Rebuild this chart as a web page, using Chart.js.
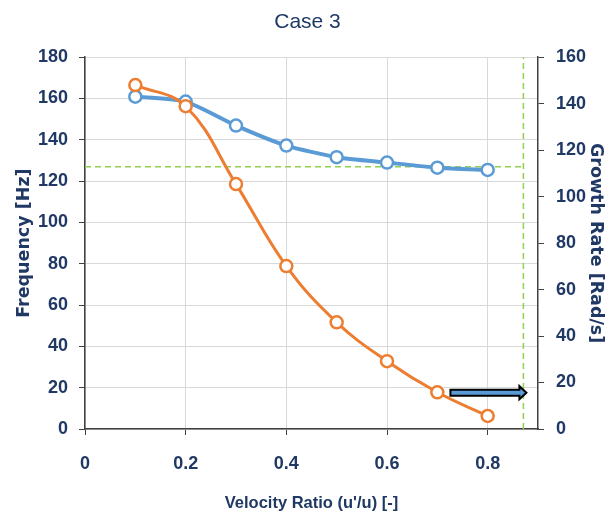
<!DOCTYPE html>
<html>
<head>
<meta charset="utf-8">
<script src="https://cdn.jsdelivr.net/npm/chart.js@4"></script>
<style>
  html, body { margin: 0; padding: 0; background: #fff; }
  #wrap { width: 615px; height: 518px; }
</style>
</head>
<body>
<div id="wrap"><canvas id="caseChart"></canvas></div>
<script>
// valores
const velocityRatio = [0.1, 0.2, 0.3, 0.4, 0.5, 0.6, 0.7, 0.8];
const frequencyHz = [160.9, 158.5, 146.9, 137.2, 131.6, 129.0, 126.5, 125.4];
const growthRate = [148, 138.9, 105.4, 70.1, 45.9, 29.2, 15.8, 5.6];
const xTicks = [0, 0.2, 0.4, 0.6, 0.8];
const limitFreq = 127;      // línea horizontal discontinua
const limitRatio = 0.871;   // línea vertical discontinua
const arrowFrom = [0.726, 17.6];
const arrowTo = [0.877, 17.6];

const navy = '#1F3864';
const sans = '"Liberation Sans", Arial, sans-serif';
const wide = '"DejaVu Sans", sans-serif';

const arrowPlugin = {
  id: 'arrow',
  afterDatasetsDraw(chart) {
    const ctx = chart.ctx;
    const x = chart.scales.x, y = chart.scales.y;
    const x0 = x.getPixelForValue(arrowFrom[0]);
    const x1 = x.getPixelForValue(arrowTo[0]);
    const yc = y.getPixelForValue(arrowFrom[1]);
    const hx = x1 - 7;
    ctx.save();
    ctx.beginPath();
    ctx.moveTo(x0, yc - 3);
    ctx.lineTo(hx, yc - 3);
    ctx.lineTo(hx, yc - 6.5);
    ctx.lineTo(x1, yc);
    ctx.lineTo(hx, yc + 6.5);
    ctx.lineTo(hx, yc + 3);
    ctx.lineTo(x0, yc + 3);
    ctx.closePath();
    ctx.fillStyle = '#5B9BD5';
    ctx.fill();
    ctx.lineWidth = 2;
    ctx.strokeStyle = '#000';
    ctx.stroke();
    ctx.restore();
  }
};

const ctx = document.getElementById('caseChart').getContext('2d');
new Chart(ctx, {
  type: 'line',
  data: {
    datasets: [
      {
        label: 'Growth Rate',
        data: velocityRatio.map((v, i) => ({ x: v, y: growthRate[i] })),
        yAxisID: 'y2',
        borderColor: '#ED7D31',
        borderWidth: 3,
        tension: 0.4,
        pointRadius: 6,
        pointBorderWidth: 2.5,
        pointBackgroundColor: '#fff',
        pointBorderColor: '#ED7D31',
        order: 0
      },
      {
        label: 'Frequency',
        data: velocityRatio.map((v, i) => ({ x: v, y: frequencyHz[i] })),
        yAxisID: 'y',
        borderColor: '#5B9BD5',
        borderWidth: 4,
        tension: 0.2,
        pointRadius: 6,
        pointBorderWidth: 2.5,
        pointBackgroundColor: '#fff',
        pointBorderColor: '#5B9BD5',
        order: 1
      },
      {
        label: 'limite h',
        data: [{ x: 0, y: limitFreq }, { x: limitRatio, y: limitFreq }],
        yAxisID: 'y',
        borderColor: '#92D050',
        borderWidth: 1.5,
        borderDash: [6, 4],
        pointRadius: 0,
        order: 2
      },
      {
        label: 'limite v',
        data: [{ x: limitRatio, y: 0 }, { x: limitRatio, y: 180 }],
        yAxisID: 'y',
        borderColor: '#92D050',
        borderWidth: 1.5,
        borderDash: [6, 4],
        pointRadius: 0,
        order: 2
      }
    ]
  },
  options: {
    responsive: true,
    maintainAspectRatio: false,
    animation: false,
    layout: { padding: 0 },
    plugins: {
      legend: { display: false },
      tooltip: { enabled: false },
      title: {
        display: true,
        text: 'Case 3',
        color: navy,
        font: { family: sans, size: 21, weight: 'normal' },
        padding: { top: 10, bottom: 22 }
      }
    },
    scales: {
      x: {
        type: 'linear',
        min: 0,
        max: 0.9,
        afterBuildTicks: s => { s.ticks = xTicks.map(v => ({ value: v })); },
        afterFit: s => { s.height = 89; },
        ticks: {
          color: navy,
          padding: 18,
          font: { family: sans, size: 18, weight: 'bold' },
          callback: v => v === 0 ? '0' : String(v)
        },
        grid: { color: '#D9D9D9', tickLength: 6, tickColor: '#404040' },
        border: { color: '#404040', width: 1.5 },
        title: {
          display: true,
          text: "Velocity Ratio (u'/u) [-]",
          color: navy,
          font: { family: sans, size: 16.5, weight: 'bold' },
          padding: { top: 0, bottom: 5 }
        }
      },
      y: {
        position: 'left',
        min: 0,
        max: 180,
        afterFit: s => { s.width = 85; },
        ticks: {
          stepSize: 20,
          color: navy,
          padding: 11,
          font: { family: sans, size: 18, weight: 'bold' }
        },
        grid: { color: '#D9D9D9', tickLength: 6, tickColor: '#404040' },
        border: { color: '#404040', width: 1.5 },
        title: {
          display: true,
          text: 'Frequency [Hz]',
          color: navy,
          font: { family: wide, size: 17.5, weight: 'bold' },
          padding: { top: 14, bottom: 0 }
        }
      },
      y2: {
        position: 'right',
        min: 0,
        max: 160,
        afterFit: s => { s.width = 77; },
        ticks: {
          stepSize: 20,
          color: navy,
          padding: 12,
          font: { family: sans, size: 18, weight: 'bold' }
        },
        grid: { drawOnChartArea: false, tickLength: 6, tickColor: '#404040' },
        border: { color: '#404040', width: 1.5 },
        title: {
          display: true,
          text: 'Growth Rate [Rad/s]',
          color: navy,
          font: { family: wide, size: 17.5, weight: 'bold' },
          padding: { top: 9, bottom: 0 }
        }
      }
    }
  },
  plugins: [arrowPlugin]
});
</script>
</body>
</html>
